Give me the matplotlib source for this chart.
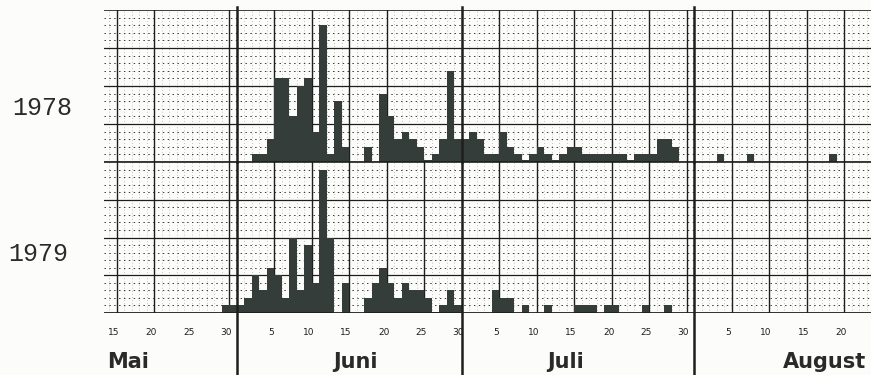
import numpy as np
import matplotlib.pyplot as plt

# Tageswerte, je Monat ab dem ersten sichtbaren Tag
mai_tage = list(range(14, 32))
juni_tage = list(range(1, 31))
juli_tage = list(range(1, 32))
aug_tage = list(range(1, 25))

mai_1978 = [0] * 18
juni_1978 = [0, 0, 1, 1, 3, 11, 11, 6, 10, 11, 4, 18, 1, 8, 2,
             0, 0, 2, 0, 9, 6, 3, 4, 3, 2, 0.2, 1, 3, 12, 3]
juli_1978 = [3, 4, 3, 1, 1, 4, 2, 1, 0.2, 1, 2, 1, 0.2, 1, 2, 2,
             1, 1, 1, 1, 1, 1, 0.2, 1, 1, 1, 3, 3, 2, 0, 0]
aug_1978 = [0, 0, 0, 1, 0, 0, 0, 1, 0, 0, 0, 0, 0, 0, 0, 0,
            0, 0, 1, 0, 0, 0, 0, 0]

mai_1979 = [0] * 16 + [1, 1]
juni_1979 = [1, 2, 5, 3, 6, 5, 2, 10, 3, 9, 4, 19, 10, 0, 4,
             0, 0, 2, 4, 6, 4, 2, 4, 3, 3, 2, 0.2, 1, 3, 1]
juli_1979 = [0, 0, 0, 0, 3, 2, 2, 0, 1, 0, 0, 1, 0, 0, 0, 1,
             1, 1, 0, 1, 1, 0, 0, 0, 1, 0, 0, 1, 0, 0, 0]
aug_1979 = [0] * 24

monate = ['Mai', 'Juni', 'Juli', 'August']
versatz = {'Mai': -32, 'Juni': -1, 'Juli': 29, 'August': 60}  # linker Rand eines Tages
tick_tage = {'Mai': [15, 20, 25, 30], 'Juni': [5, 10, 15, 20, 25, 30],
             'Juli': [5, 10, 15, 20, 25, 30], 'August': [5, 10, 15, 20]}

BAR = '#343d39'
INK = '#1e1e1e'
X0, X1 = -17.7, 84.6


def zeichne(ax, jahr_daten, major_t):
    ax.set_xlim(X0, X1)
    ax.set_ylim(0, 20)
    for t in range(-17, 85):
        ax.axvline(t, color='#8a8a8a', lw=0.5, ls=(0, (1, 3.5)), zorder=0)
    for y in range(1, 20):
        ax.axhline(y, color='#3a3a3a', lw=0.7, ls=(0, (1.5, 3.5)), zorder=0)
    for y in (5, 10, 15):
        ax.axhline(y, color=INK, lw=0.9, zorder=1)
    ax.axhline(20, color=INK, lw=1.2, zorder=1)
    for t in major_t:
        ax.axvline(t, color=INK, lw=1.0, zorder=1)
    for monat, tage, werte in jahr_daten:
        links = np.array(tage) + versatz[monat]
        ax.bar(links, werte, width=1, align='edge', color=BAR, lw=0, zorder=2)
    ax.axhline(0, color=INK, lw=2.0, zorder=3)
    for s in ax.spines.values():
        s.set_visible(False)
    ax.set_xticks([])
    ax.set_yticks([])


fig = plt.figure(figsize=(8.71, 3.75), dpi=100, facecolor='#fcfcfa')
ax1 = fig.add_axes([0.1194, 0.568, 0.8806, 0.4053])
ax2 = fig.add_axes([0.1194, 0.1653, 0.8806, 0.4027])
for ax in (ax1, ax2):
    ax.set_facecolor('none')

major_oben = [-16, -11, -1, 5, 10, 15, 20, 35, 40, 45, 50, 55, 60, 66, 71, 76, 81]
major_unten = [-16, -11, -1, 5, 10, 15, 20, 25, 35, 40, 45, 50, 55, 60, 66, 71, 76, 81]

zeichne(ax1, [('Mai', mai_tage, mai_1978), ('Juni', juni_tage, juni_1978),
              ('Juli', juli_tage, juli_1978), ('August', aug_tage, aug_1978)], major_oben)
zeichne(ax2, [('Mai', mai_tage, mai_1979), ('Juni', juni_tage, juni_1979),
              ('Juli', juli_tage, juli_1979), ('August', aug_tage, aug_1979)], major_unten)

# Monatsgrenzen, unten bis zum Bildrand verlängert
for t in (0, 30, 61):
    ax1.axvline(t, ymin=0, ymax=1.02, color=INK, lw=1.8, zorder=4, clip_on=False)
    ax2.axvline(t, ymin=-0.42, ymax=1, color=INK, lw=1.8, zorder=4, clip_on=False)

trans = ax2.get_xaxis_transform()
for monat in monate:
    for d in tick_tage[monat]:
        rand = d + versatz[monat] + 1
        if d == 30:
            ax2.text(rand + 0.3, -0.126, str(d), transform=trans, ha='right',
                     va='center', fontsize=6.5, color=INK)
        else:
            ax2.text(rand - 0.4, -0.126, str(d), transform=trans, ha='center',
                     va='center', fontsize=6.5, color=INK)

ax2.text(-17.3, -0.325, 'Mai', transform=trans, ha='left', va='center',
         fontsize=15, fontweight='bold', color='#2a2a2a')
ax2.text(15.8, -0.325, 'Juni', transform=trans, ha='center', va='center',
         fontsize=15, fontweight='bold', color='#2a2a2a')
ax2.text(43.8, -0.325, 'Juli', transform=trans, ha='center', va='center',
         fontsize=15, fontweight='bold', color='#2a2a2a')
ax2.text(84.0, -0.325, 'August', transform=trans, ha='right', va='center',
         fontsize=15, fontweight='bold', color='#2a2a2a')

fig.text(42 / 871, 0.713, '1978', family='Liberation Mono', fontsize=18,
         ha='center', va='center', color='#2a2a2a')
fig.text(38 / 871, 0.323, '1979', family='Liberation Mono', fontsize=18,
         ha='center', va='center', color='#2a2a2a')

fig.savefig('out.png', dpi=100, facecolor=fig.get_facecolor())
